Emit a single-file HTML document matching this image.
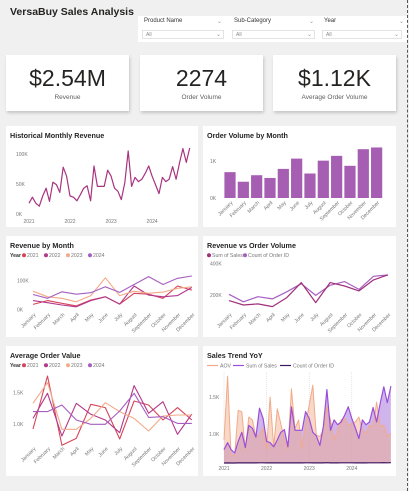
<!DOCTYPE html>
<html><head><meta charset="utf-8">
<style>
body{margin:0;width:409px;height:491px;background:#f0f0f0;font-family:"Liberation Sans",sans-serif;position:relative;overflow:hidden}
.abs{position:absolute}
.card{position:absolute;background:#fff;box-shadow:1px 2px 3px rgba(0,0,0,.18)}
.panel{position:absolute;background:#fff}
.kv{position:absolute;left:0;right:0;text-align:center;color:#252423;font-size:23px;top:10px}
.kl{position:absolute;left:0;right:0;text-align:center;color:#605e5c;font-size:6.5px;top:39px}
.sl{position:absolute;font-size:6px;color:#333}
.sd{position:absolute;height:9px;border:1px solid #e3e3e3;font-size:5px;color:#888;line-height:9px;padding-left:3px;box-sizing:border-box}
.chev{position:absolute;right:2px;font-size:6px;color:#999}
svg{position:absolute;left:0;top:0}
</style></head><body>
<div class="abs" style="left:10px;top:6px;font-size:10.5px;font-weight:bold;color:#252423">VersaBuy Sales Analysis</div>
<div class="abs" style="left:138px;top:16px;width:270px;height:26px;background:#fff"></div>
<div class="sl" style="left:144px;top:18px">Product Name<span style="position:absolute;left:73px;color:#999">⌄</span></div>
<div class="sd" style="left:142px;top:30px;width:82px">All<span class="chev">⌄</span></div>
<div class="sl" style="left:234px;top:18px">Sub-Category<span style="position:absolute;left:75px;color:#999">⌄</span></div>
<div class="sd" style="left:232px;top:30px;width:83px">All<span class="chev">⌄</span></div>
<div class="sl" style="left:324px;top:18px">Year<span style="position:absolute;left:75px;color:#999">⌄</span></div>
<div class="sd" style="left:322px;top:30px;width:80px">All<span class="chev">⌄</span></div>
<div class="abs" style="left:407px;top:0;height:491px;border-left:1px dashed #555"></div>

<div class="card" style="left:6px;top:55px;width:123px;height:56px"><div class="kv">$2.54M</div><div class="kl">Revenue</div></div>
<div class="card" style="left:140px;top:55px;width:123px;height:56px"><div class="kv">2274</div><div class="kl">Order Volume</div></div>
<div class="card" style="left:273px;top:55px;width:123px;height:56px"><div class="kv">$1.12K</div><div class="kl">Average Order Volume</div></div>

<div class="panel" style="left:6px;top:126px;width:192px;height:101px"></div>
<div class="panel" style="left:203px;top:126px;width:193px;height:101px"></div>
<div class="panel" style="left:6px;top:236px;width:192px;height:101px"></div>
<div class="panel" style="left:203px;top:236px;width:193px;height:101px"></div>
<div class="panel" style="left:6px;top:346px;width:192px;height:130px"></div>
<div class="panel" style="left:203px;top:346px;width:193px;height:130px"></div>

<svg id="s" width="409" height="491"></svg>
<script>
const months=["January","February","March","April","May","June","July","August","September","October","November","December"];
const histRevenueK=[18,28,18,13,30,43,21,53,49,36,78,63, 30,28,22,32,43,47,22,80,46,46,46,73, 63,43,38,24,52,105,46,61,54,58,68,80, 63,49,34,61,54,58,79,58,85,109,86,110];
const histYears=["2021","2022","2023","2024"];
const histTicks=[0,50,100];
const monthOrders=[151,95,133,117,170,230,143,218,246,188,285,295];
const orderTicks=[0,216];
const orderTickLabels=["0K","1K"];
const rev2021=[18,31,22,13,33,44,19,56,53,39,81,67];
const rev2022=[31,24,16,10,31,44,19,81,50,44,48,76];
const rev2023=[63,44,39,27,48,109,48,63,56,60,73,78];
const rev2024=[52,39,61,53,58,78,59,86,113,86,107,115];
const revTicks=[0,100];
const monthSalesK=[164,136,143,126,183,279,151,279,257,226,296,328];
const rvTicks=[200,400];
const aov2021=[920,1766,660,771,1314,1261,761,1367,1303,1064,1261,1064];
const aov2022=[1090,1489,808,1330,1154,1064,862,1612,1170,1356,835,1160];
const aov2023=[1330,1660,915,915,1090,1340,1197,1090,888,1128,1144,1144];
const aov2024=[1197,1197,1303,1064,995,995,1207,1489,1106,1117,1010,1010];
const aovTicks=[1000,1500];
const trendAov=[920,1780,700,720,1320,1300,785,1230,1190,965,990,1075, 790,1500,830,1340,1140,920,790,1610,1075,1190,810,1140, 1390,1660,985,965,1050,1370,1190,920,1050,1190,1210,1120, 1140,1165,1230,1050,1010,1120,1100,1430,1100,1120,965,1010];
const trendOrders=[16,25,16,12,27,38,19,47,44,32,70,56, 27,25,20,29,38,42,20,71,41,41,41,65, 56,38,34,21,46,94,41,54,48,52,61,71, 56,44,30,54,48,52,70,52,76,97,77,98];
const yearColors=["#d6455a","#b3378a","#f2aa88","#a65fc0"];

const S=document.getElementById('s');const NS="http://www.w3.org/2000/svg";
function el(tag,attrs,name,txt){const e=document.createElementNS(NS,tag);for(const k in attrs)e.setAttribute(k,attrs[k]);


if(txt!==undefined)e.textContent=txt;S.appendChild(e);return e;}
function txt(x,y,s,name,o){o=o||{};return el('text',{x:x,y:y,'font-size':o.fs||5.5,fill:o.c||'#777','font-family':'Liberation Sans, sans-serif','text-anchor':o.a||'start','font-weight':o.w||'normal',transform:o.r?`rotate(-45 ${x} ${y})`:''},name,s);}
function poly(pts,color,w,name){return el('polyline',{points:pts.map(p=>p[0].toFixed(1)+','+p[1].toFixed(1)).join(' '),fill:'none',stroke:color,'stroke-width':w||1.2,'stroke-linejoin':'round'},name);}
function area(pts,base,fill,name){const d='M'+pts[0][0]+','+base+' '+pts.map(p=>'L'+p[0].toFixed(1)+','+p[1].toFixed(1)).join(' ')+' L'+pts[pts.length-1][0]+','+base+'Z';return el('path',{d:d,fill:fill,stroke:'none'},name);}
function title(x,y,s,name){txt(x,y,s,name,{fs:7.2,c:'#252423',w:'bold'});}
function monthLabels(xf,y,prefix){months.forEach((m,i)=>txt(xf(i)+3,y,m,prefix+'-label-'+m.toLowerCase(),{r:1,a:'end',fs:5.2}));}
function legendYears(x,y,prefix){txt(x,y,'Year',prefix+'-legend-title',{fs:5.2,c:'#333',w:'bold'});let cx=x+14;histYears.forEach((yy,i)=>{el('circle',{cx:cx,cy:y-1.8,r:2,fill:yearColors[i]},prefix+'-legend-dot-'+yy);txt(cx+3,y,yy,prefix+'-legend-'+yy,{fs:5.2});cx+=22;});}

// Historical monthly revenue
title(10,138,'Historical Monthly Revenue','historical-revenue-title');
{const x=i=>29+i*3.42, y=v=>214-v*0.6;
histTicks.forEach(t=>txt(16,y(t)+2,t+'K','hist-y-tick',{fs:5}));
histYears.forEach((yy,i)=>txt(x(i*12),223,yy,'hist-x-tick-'+yy,{fs:5,a:'middle'}));
poly(histRevenueK.map((v,i)=>[x(i),y(v)]),'#a8347f',1.2,'historical-revenue-line');}

// Order volume by month
title(207,138,'Order Volume by Month','order-volume-title');
{const x=i=>230+i*13.33, y=v=>198-v*(37/216);
orderTicks.forEach((t,i)=>txt(210,y(t)+2,orderTickLabels[i],'orders-y-tick',{fs:5}));
monthOrders.forEach((v,i)=>el('rect',{x:x(i)-5.6,y:y(v),width:11.2,height:198-y(v),fill:'#a65eb3'},'order-bar-'+months[i].toLowerCase()));
monthLabels(x,203,'orders-x');}

// Revenue by month
title(10,248,'Revenue by Month','revenue-by-month-title');legendYears(10,257,'revenue');
{const x=i=>33+i*14.45, y=v=>309.7-v*0.293;
revTicks.forEach(t=>txt(17,y(t)+2,t+'K','revenue-y-tick',{fs:5}));
[rev2021,rev2022,rev2023,rev2024].forEach((s,k)=>poly(s.map((v,i)=>[x(i),y(v)]),yearColors[k],1.1,'revenue-line-'+histYears[k]));
monthLabels(x,315,'revenue-x');}

// Revenue vs order volume
title(207,248,'Revenue vs Order Volume','revenue-vs-volume-title');
el('circle',{cx:209,cy:255.2,r:2,fill:'#a0307a'},'rv-legend-dot-sales');txt(212,257,'Sum of Sales','rv-legend-sales',{fs:5.2});
el('circle',{cx:245,cy:255.2,r:2,fill:'#a65fc0'},'rv-legend-dot-count');txt(248,257,'Count of Order ID','rv-legend-count',{fs:5.2});
{const x=i=>229+i*14.45, y=v=>326.3-v*0.1567, y2=c=>314.6-c*0.1343;
rvTicks.forEach(t=>txt(210,y(t)+2,t+'K','rv-y-tick',{fs:5}));
poly(monthOrders.map((v,i)=>[x(i),y2(v)]),'#a65fc0',1.2,'order-count-line');
poly(monthSalesK.map((v,i)=>[x(i),y(v)]),'#a0307a',1.2,'sum-of-sales-line');
monthLabels(x,315,'rv-x');}

// Average order value
title(10,358,'Average Order Value','aov-title');legendYears(10,367,'aov');
{const x=i=>33+i*14.45, y=v=>424-(v-1000)*0.0627;
aovTicks.forEach(t=>txt(13,y(t)+2,(t/1000).toFixed(1)+'K','aov-y-tick',{fs:5}));
[aov2021,aov2022,aov2023,aov2024].forEach((s,k)=>poly(s.map((v,i)=>[x(i),y(v)]),yearColors[k],1.1,'aov-line-'+histYears[k]));
monthLabels(x,449,'aov-x');}

// Sales trend YoY
title(207,358,'Sales Trend YoY','sales-trend-title');
el('line',{x1:207,y1:365.5,x2:218,y2:365.5,stroke:'#f2aa88','stroke-width':1.2},'trend-legend-aov-line');txt(220,367.5,'AOV','trend-legend-aov',{fs:5.2});
el('line',{x1:233,y1:365.5,x2:244,y2:365.5,stroke:'#9b4fd9','stroke-width':1.2},'trend-legend-sales-line');txt(246,367.5,'Sum of Sales','trend-legend-sales',{fs:5.2});
el('line',{x1:280,y1:365.5,x2:291,y2:365.5,stroke:'#3d1560','stroke-width':1.2},'trend-legend-count-line');txt(293,367.5,'Count of Order ID','trend-legend-count',{fs:5.2});
{const base=463, x=i=>224+i*3.55, y=v=>434-(v-1000)*0.074, ys=v=>462-v*0.69, yc=c=>base-c*0.003;
histYears.forEach((yy,i)=>{el('line',{x1:x(i*12),y1:372,x2:x(i*12),y2:base,stroke:'#ccc','stroke-width':0.5,'stroke-dasharray':'1,1'},'trend-year-grid-'+yy);txt(x(i*12),470,yy,'trend-x-tick-'+yy,{fs:5,a:'middle'});});
aovTicks.forEach(t=>txt(209,y(t)+2,(t/1000).toFixed(1)+'K','trend-y-tick',{fs:5}));
const pa=trendAov.map((v,i)=>[x(i),Math.min(base,y(v))]);
const ps=histRevenueK.map((v,i)=>[x(i),ys(v)]);
area(ps,base,'rgba(170,120,220,0.55)','sales-area');
area(pa,base,'rgba(240,170,135,0.45)','aov-area');
poly(pa,'#f2aa88',1,'aov-trend-line');
poly(ps,'#9b4fd9',1.2,'sales-trend-line');
poly(trendOrders.map((v,i)=>[x(i),yc(v)]),'#3d1560',1.2,'order-count-trend-line');}
</script>
</body></html>
